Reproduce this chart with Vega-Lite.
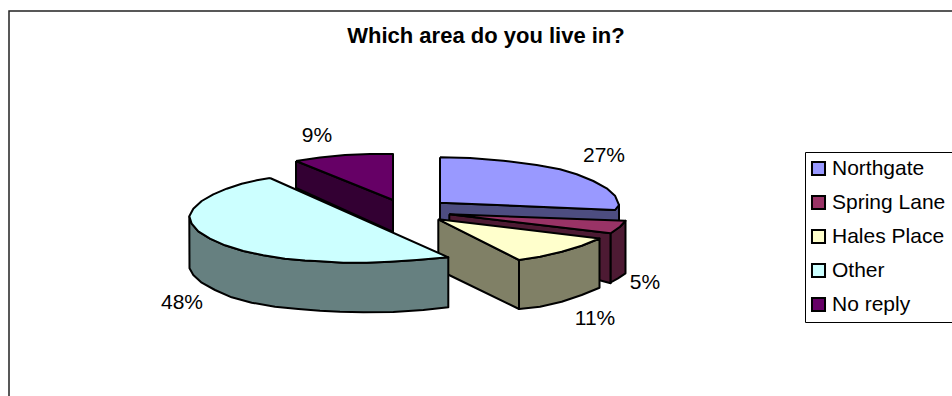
{
  "$schema": "https://vega.github.io/schema/vega-lite/v6.json",
  "width": 952,
  "height": 396,
  "padding": 0,
  "autosize": "none",
  "background": "white",
  "title": {"text": "Which area do you live in?", "font": "Liberation Sans", "fontSize": 22, "fontWeight": "bold", "color": "black", "anchor": "middle", "frame": "group", "dx": 10, "dy": 69, "baseline": "alphabetic"},
  "config": {"view": {"stroke": null}},
  "layer": [
    {
      "data": {"values": [
        {"x": 9, "y": 396, "seq": 1}, {"x": 9, "y": 11, "seq": 2}, {"x": 952, "y": 11, "seq": 3}
      ]},
      "mark": {"type": "line", "stroke": "#222222", "strokeWidth": 1.5, "interpolate": "linear", "clip": false},
      "encoding": {
        "x": {"field": "x", "type": "quantitative", "scale": {"domain": [0, 952], "nice": false, "zero": false}, "axis": null},
        "y": {"field": "y", "type": "quantitative", "scale": {"domain": [396, 0], "nice": false, "zero": false}, "axis": null},
        "order": {"field": "seq"}
      }
    },
    {
      "data": {"values": [
        {"slice": "Northgate side", "face": "a1", "seq": 1, "x": 440, "y": 202.7},
        {"slice": "Northgate side", "face": "a1", "seq": 2, "x": 615, "y": 210},
        {"slice": "Northgate side", "face": "a1", "seq": 3, "x": 619, "y": 205},
        {"slice": "Northgate side", "face": "a1", "seq": 4, "x": 619, "y": 221},
        {"slice": "Northgate side", "face": "a1", "seq": 5, "x": 440, "y": 221},
        {"slice": "Northgate side", "face": "a1", "seq": 6, "x": 440, "y": 202.7},
        {"slice": "Northgate", "face": "a2", "seq": 1, "x": 440, "y": 157.3},
        {"slice": "Northgate", "face": "a2", "seq": 2, "x": 470, "y": 158},
        {"slice": "Northgate", "face": "a2", "seq": 3, "x": 503.3, "y": 160.7},
        {"slice": "Northgate", "face": "a2", "seq": 4, "x": 536.7, "y": 165},
        {"slice": "Northgate", "face": "a2", "seq": 5, "x": 560, "y": 169.3},
        {"slice": "Northgate", "face": "a2", "seq": 6, "x": 576.7, "y": 174.3},
        {"slice": "Northgate", "face": "a2", "seq": 7, "x": 593.3, "y": 181},
        {"slice": "Northgate", "face": "a2", "seq": 8, "x": 606.7, "y": 188.3},
        {"slice": "Northgate", "face": "a2", "seq": 9, "x": 615, "y": 195.7},
        {"slice": "Northgate", "face": "a2", "seq": 10, "x": 619, "y": 205},
        {"slice": "Northgate", "face": "a2", "seq": 11, "x": 615, "y": 210},
        {"slice": "Northgate", "face": "a2", "seq": 12, "x": 440, "y": 202.7},
        {"slice": "Northgate", "face": "a2", "seq": 13, "x": 440, "y": 157.3},
        {"slice": "Spring Lane side", "face": "b1", "seq": 1, "x": 449.3, "y": 214.3},
        {"slice": "Spring Lane side", "face": "b1", "seq": 2, "x": 610.7, "y": 233.3},
        {"slice": "Spring Lane side", "face": "b1", "seq": 3, "x": 610.7, "y": 283.3},
        {"slice": "Spring Lane side", "face": "b1", "seq": 4, "x": 449.3, "y": 240},
        {"slice": "Spring Lane side", "face": "b1", "seq": 5, "x": 449.3, "y": 214.3},
        {"slice": "Spring Lane side", "face": "b2", "seq": 1, "x": 610.7, "y": 233.3},
        {"slice": "Spring Lane side", "face": "b2", "seq": 2, "x": 620, "y": 226.7},
        {"slice": "Spring Lane side", "face": "b2", "seq": 3, "x": 625.5, "y": 220.7},
        {"slice": "Spring Lane side", "face": "b2", "seq": 4, "x": 625.5, "y": 273.3},
        {"slice": "Spring Lane side", "face": "b2", "seq": 5, "x": 618, "y": 278.3},
        {"slice": "Spring Lane side", "face": "b2", "seq": 6, "x": 610.7, "y": 282.5},
        {"slice": "Spring Lane side", "face": "b2", "seq": 7, "x": 610.7, "y": 233.3},
        {"slice": "Spring Lane", "face": "b3", "seq": 1, "x": 449.3, "y": 214.3},
        {"slice": "Spring Lane", "face": "b3", "seq": 2, "x": 625.5, "y": 220.7},
        {"slice": "Spring Lane", "face": "b3", "seq": 3, "x": 620, "y": 226.7},
        {"slice": "Spring Lane", "face": "b3", "seq": 4, "x": 610.7, "y": 233.3},
        {"slice": "Spring Lane", "face": "b3", "seq": 5, "x": 449.3, "y": 214.3},
        {"slice": "No reply side", "face": "c1", "seq": 1, "x": 296, "y": 161},
        {"slice": "No reply side", "face": "c1", "seq": 2, "x": 393, "y": 200},
        {"slice": "No reply side", "face": "c1", "seq": 3, "x": 393, "y": 232},
        {"slice": "No reply side", "face": "c1", "seq": 4, "x": 296, "y": 188},
        {"slice": "No reply side", "face": "c1", "seq": 5, "x": 296, "y": 161},
        {"slice": "No reply", "face": "c2", "seq": 1, "x": 296, "y": 161},
        {"slice": "No reply", "face": "c2", "seq": 2, "x": 320, "y": 157.5},
        {"slice": "No reply", "face": "c2", "seq": 3, "x": 345, "y": 155},
        {"slice": "No reply", "face": "c2", "seq": 4, "x": 370, "y": 154},
        {"slice": "No reply", "face": "c2", "seq": 5, "x": 393, "y": 154},
        {"slice": "No reply", "face": "c2", "seq": 6, "x": 393, "y": 200},
        {"slice": "No reply", "face": "c2", "seq": 7, "x": 296, "y": 161},
        {"slice": "Hales Place side", "face": "d1", "seq": 1, "x": 438.3, "y": 219.3},
        {"slice": "Hales Place side", "face": "d1", "seq": 2, "x": 519, "y": 260},
        {"slice": "Hales Place side", "face": "d1", "seq": 3, "x": 519, "y": 309},
        {"slice": "Hales Place side", "face": "d1", "seq": 4, "x": 449, "y": 275},
        {"slice": "Hales Place side", "face": "d1", "seq": 5, "x": 438.3, "y": 270},
        {"slice": "Hales Place side", "face": "d1", "seq": 6, "x": 438.3, "y": 219.3},
        {"slice": "Hales Place side", "face": "d2", "seq": 1, "x": 519, "y": 260},
        {"slice": "Hales Place side", "face": "d2", "seq": 2, "x": 540, "y": 256.7},
        {"slice": "Hales Place side", "face": "d2", "seq": 3, "x": 561.7, "y": 251.7},
        {"slice": "Hales Place side", "face": "d2", "seq": 4, "x": 581.7, "y": 245.7},
        {"slice": "Hales Place side", "face": "d2", "seq": 5, "x": 599.5, "y": 238.5},
        {"slice": "Hales Place side", "face": "d2", "seq": 6, "x": 599.5, "y": 287.7},
        {"slice": "Hales Place side", "face": "d2", "seq": 7, "x": 581.7, "y": 295},
        {"slice": "Hales Place side", "face": "d2", "seq": 8, "x": 561.7, "y": 301.7},
        {"slice": "Hales Place side", "face": "d2", "seq": 9, "x": 540, "y": 306.7},
        {"slice": "Hales Place side", "face": "d2", "seq": 10, "x": 519, "y": 309},
        {"slice": "Hales Place side", "face": "d2", "seq": 11, "x": 519, "y": 260},
        {"slice": "Hales Place", "face": "d3", "seq": 1, "x": 438.3, "y": 219.3},
        {"slice": "Hales Place", "face": "d3", "seq": 2, "x": 599.5, "y": 238.5},
        {"slice": "Hales Place", "face": "d3", "seq": 3, "x": 581.7, "y": 245.7},
        {"slice": "Hales Place", "face": "d3", "seq": 4, "x": 561.7, "y": 251.7},
        {"slice": "Hales Place", "face": "d3", "seq": 5, "x": 540, "y": 256.7},
        {"slice": "Hales Place", "face": "d3", "seq": 6, "x": 519, "y": 260},
        {"slice": "Hales Place", "face": "d3", "seq": 7, "x": 438.3, "y": 219.3},
        {"slice": "Other side", "face": "e1", "seq": 1, "x": 189.3, "y": 216.3},
        {"slice": "Other side", "face": "e1", "seq": 2, "x": 191.7, "y": 223.7},
        {"slice": "Other side", "face": "e1", "seq": 3, "x": 198.3, "y": 231.3},
        {"slice": "Other side", "face": "e1", "seq": 4, "x": 210, "y": 238.7},
        {"slice": "Other side", "face": "e1", "seq": 5, "x": 225, "y": 245.3},
        {"slice": "Other side", "face": "e1", "seq": 6, "x": 243.3, "y": 251},
        {"slice": "Other side", "face": "e1", "seq": 7, "x": 263.3, "y": 255.3},
        {"slice": "Other side", "face": "e1", "seq": 8, "x": 285, "y": 258.7},
        {"slice": "Other side", "face": "e1", "seq": 9, "x": 305, "y": 260.5},
        {"slice": "Other side", "face": "e1", "seq": 10, "x": 320, "y": 261.3},
        {"slice": "Other side", "face": "e1", "seq": 11, "x": 343.3, "y": 262.7},
        {"slice": "Other side", "face": "e1", "seq": 12, "x": 366.7, "y": 262.7},
        {"slice": "Other side", "face": "e1", "seq": 13, "x": 390, "y": 261.7},
        {"slice": "Other side", "face": "e1", "seq": 14, "x": 416.7, "y": 260},
        {"slice": "Other side", "face": "e1", "seq": 15, "x": 448.3, "y": 257.3},
        {"slice": "Other side", "face": "e1", "seq": 16, "x": 448.3, "y": 307.3},
        {"slice": "Other side", "face": "e1", "seq": 17, "x": 423.3, "y": 310},
        {"slice": "Other side", "face": "e1", "seq": 18, "x": 393.3, "y": 312},
        {"slice": "Other side", "face": "e1", "seq": 19, "x": 363.3, "y": 312.3},
        {"slice": "Other side", "face": "e1", "seq": 20, "x": 340, "y": 311.7},
        {"slice": "Other side", "face": "e1", "seq": 21, "x": 320, "y": 310.7},
        {"slice": "Other side", "face": "e1", "seq": 22, "x": 298.3, "y": 309},
        {"slice": "Other side", "face": "e1", "seq": 23, "x": 275, "y": 306.7},
        {"slice": "Other side", "face": "e1", "seq": 24, "x": 251.7, "y": 302.7},
        {"slice": "Other side", "face": "e1", "seq": 25, "x": 231.7, "y": 297.3},
        {"slice": "Other side", "face": "e1", "seq": 26, "x": 215, "y": 290},
        {"slice": "Other side", "face": "e1", "seq": 27, "x": 201.7, "y": 282.7},
        {"slice": "Other side", "face": "e1", "seq": 28, "x": 193.3, "y": 275},
        {"slice": "Other side", "face": "e1", "seq": 29, "x": 189.5, "y": 268.3},
        {"slice": "Other side", "face": "e1", "seq": 30, "x": 189.3, "y": 216.3},
        {"slice": "Other", "face": "e2", "seq": 1, "x": 270, "y": 178},
        {"slice": "Other", "face": "e2", "seq": 2, "x": 256.7, "y": 180.3},
        {"slice": "Other", "face": "e2", "seq": 3, "x": 241.7, "y": 183.7},
        {"slice": "Other", "face": "e2", "seq": 4, "x": 226.7, "y": 188.7},
        {"slice": "Other", "face": "e2", "seq": 5, "x": 213.3, "y": 194.3},
        {"slice": "Other", "face": "e2", "seq": 6, "x": 201.7, "y": 201},
        {"slice": "Other", "face": "e2", "seq": 7, "x": 193.3, "y": 208.7},
        {"slice": "Other", "face": "e2", "seq": 8, "x": 189.3, "y": 216.3},
        {"slice": "Other", "face": "e2", "seq": 9, "x": 191.7, "y": 223.7},
        {"slice": "Other", "face": "e2", "seq": 10, "x": 198.3, "y": 231.3},
        {"slice": "Other", "face": "e2", "seq": 11, "x": 210, "y": 238.7},
        {"slice": "Other", "face": "e2", "seq": 12, "x": 225, "y": 245.3},
        {"slice": "Other", "face": "e2", "seq": 13, "x": 243.3, "y": 251},
        {"slice": "Other", "face": "e2", "seq": 14, "x": 263.3, "y": 255.3},
        {"slice": "Other", "face": "e2", "seq": 15, "x": 285, "y": 258.7},
        {"slice": "Other", "face": "e2", "seq": 16, "x": 305, "y": 260.5},
        {"slice": "Other", "face": "e2", "seq": 17, "x": 320, "y": 261.3},
        {"slice": "Other", "face": "e2", "seq": 18, "x": 343.3, "y": 262.7},
        {"slice": "Other", "face": "e2", "seq": 19, "x": 366.7, "y": 262.7},
        {"slice": "Other", "face": "e2", "seq": 20, "x": 390, "y": 261.7},
        {"slice": "Other", "face": "e2", "seq": 21, "x": 416.7, "y": 260},
        {"slice": "Other", "face": "e2", "seq": 22, "x": 448.3, "y": 257.3},
        {"slice": "Other", "face": "e2", "seq": 23, "x": 270, "y": 178}
      ]},
      "mark": {"type": "line", "stroke": "black", "strokeWidth": 2, "strokeJoin": "round", "interpolate": "linear", "clip": false},
      "encoding": {
        "x": {"field": "x", "type": "quantitative", "scale": {"domain": [0, 952], "nice": false, "zero": false}, "axis": null},
        "y": {"field": "y", "type": "quantitative", "scale": {"domain": [396, 0], "nice": false, "zero": false}, "axis": null},
        "detail": {"field": "face"},
        "order": {"field": "seq"},
        "fill": {
          "field": "slice",
          "type": "nominal",
          "sort": null,
          "scale": {
            "domain": ["Northgate", "Spring Lane", "Hales Place", "Other", "No reply", "Northgate side", "Spring Lane side", "Hales Place side", "Other side", "No reply side"],
            "range": ["#9999FF", "#993366", "#FFFFCC", "#CCFFFF", "#660066", "#4D4D80", "#4D1A33", "#808066", "#668080", "#330033"]
          },
          "legend": {
            "values": ["Northgate", "Spring Lane", "Hales Place", "Other", "No reply"],
            "title": null,
            "orient": "none",
            "legendX": 805,
            "legendY": 152,
            "fillColor": "white",
            "strokeColor": "black",
            "padding": 6,
            "symbolType": "square",
            "symbolSize": 170,
            "symbolOffset": -3,
            "symbolStrokeColor": "black",
            "symbolStrokeWidth": 2,
            "labelFont": "Liberation Sans",
            "labelFontSize": 21,
            "labelColor": "black",
            "labelOffset": 3,
            "rowPadding": 11,
            "labelLimit": 200
          }
        }
      }
    },
    {
      "data": {"values": [
        {"slice": "Northgate", "share": 0.27, "x": 604, "y": 156},
        {"slice": "Spring Lane", "share": 0.05, "x": 645, "y": 283},
        {"slice": "Hales Place", "share": 0.11, "x": 595, "y": 319},
        {"slice": "Other", "share": 0.48, "x": 182, "y": 303},
        {"slice": "No reply", "share": 0.09, "x": 317, "y": 136}
      ]},
      "mark": {"type": "text", "font": "Liberation Sans", "fontSize": 21, "color": "black", "align": "center", "baseline": "middle"},
      "encoding": {
        "x": {"field": "x", "type": "quantitative", "scale": {"domain": [0, 952], "nice": false, "zero": false}, "axis": null},
        "y": {"field": "y", "type": "quantitative", "scale": {"domain": [396, 0], "nice": false, "zero": false}, "axis": null},
        "text": {"field": "share", "type": "quantitative", "format": ".0%"}
      }
    }
  ]
}
